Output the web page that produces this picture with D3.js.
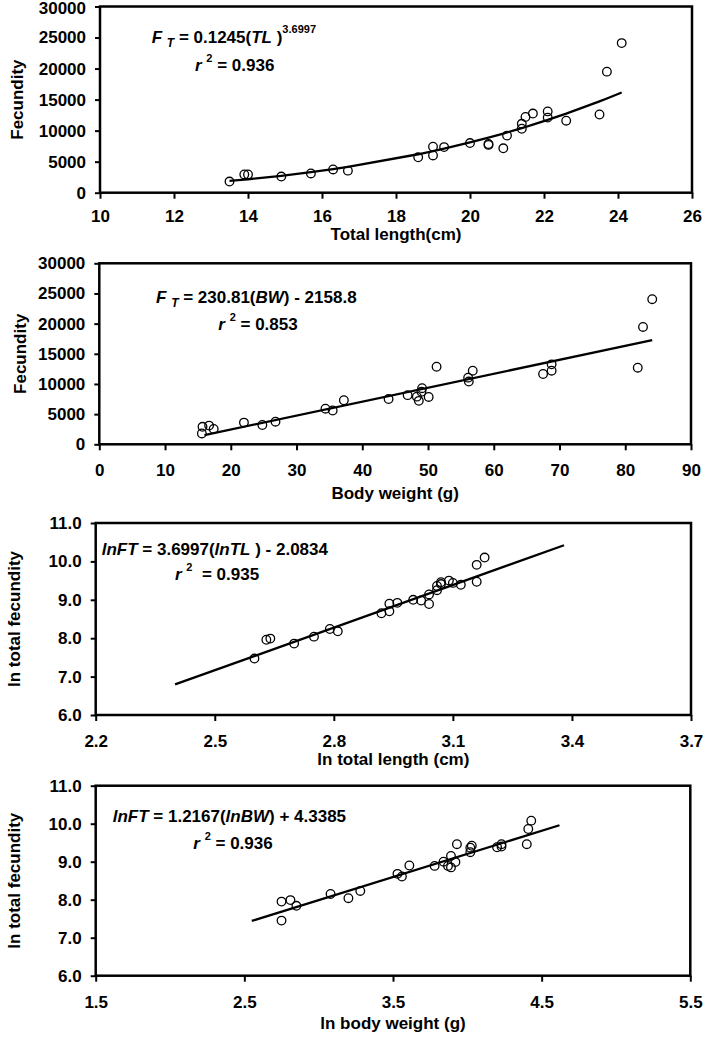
<!DOCTYPE html>
<html>
<head>
<meta charset="utf-8">
<script src="https://cdn.jsdelivr.net/npm/d3@7"></script>
<style>
    body { margin: 0; background: #fff; }
    svg text { font-family: "Liberation Sans", Arial, sans-serif; font-weight: bold; fill: #000; }
    .axis .domain { display: none; }
    .axis line { stroke: #000; stroke-width: 2; }
</style>
</head>
<body>
<svg id="chart" width="703" height="1039"></svg>
<script>
// panel 1 : fecundity vs total length
const tlCm   = [13.5, 13.9, 14.0, 14.9, 15.7, 16.3, 16.7, 18.6, 19.0, 19.0, 19.3, 20.0, 20.5, 20.5, 20.9, 21.0, 21.4, 21.4, 21.5, 21.7, 22.1, 22.1, 22.6, 23.5, 23.7, 24.1];
const fecTL  = [1800, 2950, 2950, 2600, 3100, 3750, 3550, 5700, 7400, 6000, 7350, 8000, 7700, 7850, 7150, 9200, 10300, 11100, 12200, 12750, 13100, 12100, 11600, 12600, 19500, 24100];
const tlFit  = [0.1245, 3.6997];   // F = a * TL^b

// panel 2 : fecundity vs body weight
const bwG    = [15.6, 15.7, 16.7, 17.4, 22.0, 24.8, 26.8, 34.4, 35.5, 37.2, 44.0, 46.9, 48.3, 48.6, 49.1, 49.0, 50.1, 51.3, 56.1, 56.2, 56.8, 67.5, 68.8, 68.8, 81.9, 82.7, 84.1];
const fecBW  = [1800, 2900, 3100, 2550, 3600, 3200, 3750, 5900, 5600, 7300, 7500, 8150, 7900, 7200, 9300, 8700, 7850, 12850, 11050, 10400, 12200, 11650, 13250, 12200, 12700, 19450, 24050];
const bwFit  = [230.81, -2158.8];  // F = a * BW + b
const bwFitRange = [16.0, 84.1];

// panel 3 : ln fecundity vs ln total length
const lnTL   = [2.60, 2.63, 2.64, 2.70, 2.75, 2.79, 2.81, 2.92, 2.94, 2.94, 2.96, 3.00, 3.02, 3.04, 3.04, 3.06, 3.06, 3.07, 3.07, 3.09, 3.10, 3.12, 3.16, 3.16, 3.18];
const lnFTL  = [7.47, 7.96, 7.99, 7.86, 8.04, 8.24, 8.18, 8.65, 8.90, 8.70, 8.92, 9.00, 8.98, 8.89, 9.14, 9.25, 9.36, 9.46, 9.41, 9.50, 9.44, 9.39, 9.47, 9.91, 10.10];
const lnTLFit = [3.6997, -2.0834];
const lnTLFitRange = [2.40, 3.38];

// panel 4 : ln fecundity vs ln body weight
const lnBW   = [2.75, 2.75, 2.81, 2.85, 3.08, 3.20, 3.28, 3.53, 3.56, 3.61, 3.78, 3.84, 3.87, 3.89, 3.92, 3.89, 3.93, 4.02, 4.02, 4.03, 4.20, 4.23, 4.23, 4.40, 4.41, 4.43];
const lnFBW  = [7.45, 7.95, 7.99, 7.84, 8.15, 8.04, 8.23, 8.68, 8.61, 8.90, 8.89, 9.00, 8.89, 9.15, 8.99, 8.85, 9.46, 9.25, 9.37, 9.42, 9.38, 9.46, 9.40, 9.46, 9.86, 10.08];
const lnBWFit = [1.2167, 4.3385];
const lnBWFitRange = [2.55, 4.62];

// ticks
const fecTicks  = [0, 5000, 10000, 15000, 20000, 25000, 30000];
const tlTicks   = [10, 12, 14, 16, 18, 20, 22, 24, 26];
const bwTicks   = [0, 10, 20, 30, 40, 50, 60, 70, 80, 90];
const lnFTicks  = [6, 7, 8, 9, 10, 11];
const lnTLTicks = [2.2, 2.5, 2.8, 3.1, 3.4, 3.7];
const lnBWTicks = [1.5, 2.5, 3.5, 4.5, 5.5];

// fitted lines
const curveX = Array.from(new Set(tlCm)).sort((a, b) => a - b);
const linFit = (c, r) => r.map(v => [v, c[0] * v + c[1]]);

const panels = [
    {
        pts: tlCm.map((v, i) => [v, fecTL[i]]),
        fit: curveX.map(v => [v, tlFit[0] * Math.pow(v, tlFit[1])]),
        xDom: [10, 26], yDom: [0, 30000], xTicks: tlTicks, yTicks: fecTicks,
        xFmt: d3.format("d"), yFmt: d3.format("d"),
        box: {l: 100, r: 692, t: 6.5, b: 192.7},
        xTitle: "Total length(cm)", xTitleY: 240, xPad: 11, topNudge: 2,
        yTitle: "Fecundity", yTitleX: 23,
        eq1: {x: 151.7, y: 43.3, parts: [["F", "i"], [" "], ["T", "sub"], [" = 0.1245("], ["TL", "i"], [" )"], ["3.6997", "sup"]]},
        eq2: {x: 195, y: 70.7, parts: [["r", "i"], [" "], ["2", "sup2"], [" = 0.936"]]}
    },
    {
        pts: bwG.map((v, i) => [v, fecBW[i]]),
        fit: linFit(bwFit, bwFitRange),
        xDom: [0, 90], yDom: [0, 30000], xTicks: bwTicks, yTicks: fecTicks,
        xFmt: d3.format("d"), yFmt: d3.format("d"),
        box: {l: 99.3, r: 691, t: 263.3, b: 444.3},
        xTitle: "Body weight (g)", xTitleY: 499, xPad: 14, topNudge: 0,
        yTitle: "Fecundity", yTitleX: 26,
        eq1: {x: 156, y: 303, parts: [["F", "i"], [" "], ["T", "sub"], [" = 230.81("], ["BW", "i"], [") - 2158.8"]]},
        eq2: {x: 218.3, y: 330, parts: [["r", "i"], [" "], ["2", "sup2"], [" = 0.853"]]}
    },
    {
        pts: lnTL.map((v, i) => [v, lnFTL[i]]),
        fit: linFit(lnTLFit, lnTLFitRange),
        xDom: [2.2, 3.7], yDom: [6, 11], xTicks: lnTLTicks, yTicks: lnFTicks,
        xFmt: d3.format(".1f"), yFmt: d3.format(".1f"),
        box: {l: 95.7, r: 691, t: 523, b: 715},
        xTitle: "ln total length (cm)", xTitleY: 765, xPad: 14, topNudge: 0,
        yTitle: "ln total fecundity", yTitleX: 20,
        eq1: {x: 101.7, y: 554.5, parts: [["lnFT", "i"], [" = 3.6997("], ["lnTL", "i"], [" ) - 2.0834"]]},
        eq2: {x: 175, y: 580, parts: [["r", "i"], [" "], ["2", "sup2"], ["  = 0.935"]]}
    },
    {
        pts: lnBW.map((v, i) => [v, lnFBW[i]]),
        fit: linFit(lnBWFit, lnBWFitRange),
        xDom: [1.5, 5.5], yDom: [6, 11], xTicks: lnBWTicks, yTicks: lnFTicks,
        xFmt: d3.format(".1f"), yFmt: d3.format(".1f"),
        box: {l: 95.7, r: 690.3, t: 785.7, b: 975.7},
        xTitle: "ln body weight (g)", xTitleY: 1029, xPad: 14, topNudge: 0,
        yTitle: "ln total fecundity", yTitleX: 20,
        eq1: {x: 112.7, y: 822, parts: [["lnFT", "i"], [" = 1.2167("], ["lnBW", "i"], [") + 4.3385"]]},
        eq2: {x: 193.3, y: 849, parts: [["r", "i"], [" "], ["2", "sup2"], [" = 0.936"]]}
    }
];

const svg = d3.select("#chart");

function drawEquation(g, eq) {
    const text = g.append("text")
        .attr("x", eq.x).attr("y", eq.y)
        .style("font-size", "17px")
        .attr("xml:space", "preserve")
        .style("white-space", "pre");
    let shift = 0;
    eq.parts.forEach(p => {
        const kind = p[1];
        let target = 0, size = 17;
        if (kind === "sub") { target = 3.5; size = 12; }
        if (kind === "sup") { target = -10; size = 11; }
        if (kind === "sup2") { target = -9; size = 11; }
        const ts = text.append("tspan")
            .attr("dy", target - shift)
            .style("font-size", size + "px")
            .text(p[0]);
        if (kind === "i" || kind === "sub") ts.style("font-style", "italic");
        shift = target;
    });
}

panels.forEach(p => {
    const b = p.box;
    const x = d3.scaleLinear().domain(p.xDom).range([b.l, b.r]);
    const y = d3.scaleLinear().domain(p.yDom).range([b.b, b.t]);
    const g = svg.append("g");

    // frame
    g.append("rect")
        .attr("x", b.l).attr("y", b.t)
        .attr("width", b.r - b.l).attr("height", b.b - b.t)
        .attr("fill", "none").attr("stroke", "#000").attr("stroke-width", 2.5);

    // axes
    g.append("g")
        .attr("class", "axis")
        .attr("transform", "translate(0," + b.b + ")")
        .call(d3.axisBottom(x).tickValues(p.xTicks).tickFormat(p.xFmt).tickSizeInner(6).tickSizeOuter(0).tickPadding(p.xPad))
        .selectAll("text").style("font-size", "17px");

    const yAxis = g.append("g")
        .attr("class", "axis")
        .attr("transform", "translate(" + b.l + ",0)")
        .call(d3.axisLeft(y).tickValues(p.yTicks).tickFormat(p.yFmt).tickSizeInner(5).tickSizeOuter(0).tickPadding(9));
    yAxis.selectAll("text").style("font-size", "17px");
    // keep the top label inside the page
    yAxis.selectAll("text").filter(d => d === p.yDom[1]).attr("y", p.topNudge);

    // axis titles
    g.append("text")
        .attr("x", (b.l + b.r) / 2).attr("y", p.xTitleY)
        .attr("text-anchor", "middle")
        .style("font-size", "17px")
        .text(p.xTitle);

    g.append("text")
        .attr("transform", "translate(" + p.yTitleX + "," + (b.t + b.b) / 2 + ") rotate(-90)")
        .attr("text-anchor", "middle")
        .style("font-size", "17px")
        .text(p.yTitle);

    // fitted line
    g.append("path")
        .datum(p.fit)
        .attr("fill", "none").attr("stroke", "#000").attr("stroke-width", 2.3)
        .attr("d", d3.line().x(d => x(d[0])).y(d => y(d[1])));

    // points
    g.selectAll("circle")
        .data(p.pts)
        .enter().append("circle")
        .attr("cx", d => x(d[0]))
        .attr("cy", d => y(d[1]))
        .attr("r", 4.3)
        .attr("fill", "none")
        .attr("stroke", "#000")
        .attr("stroke-width", 1.3);

    drawEquation(g, p.eq1);
    drawEquation(g, p.eq2);
});
</script>
</body>
</html>
